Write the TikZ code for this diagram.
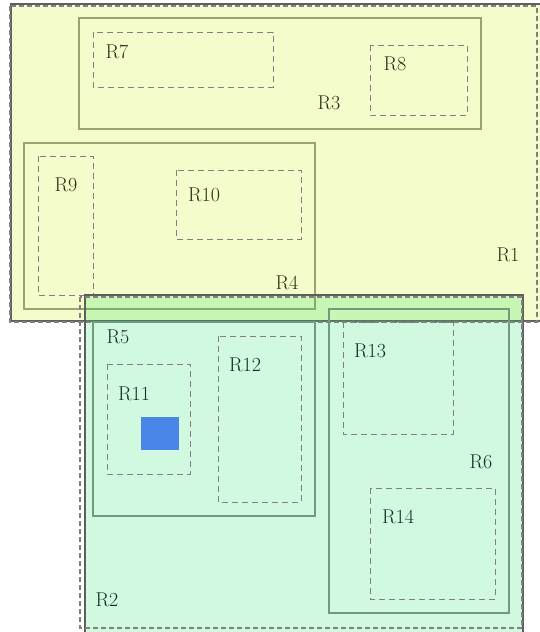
\documentclass[tikz,border=0pt]{standalone}
\usepackage{xcolor}
\usepackage{tikz}
\usetikzlibrary{positioning}
\definecolor{rootFill}{HTML}{F5FCCB}
\definecolor{rightFill}{HTML}{14E15F}
\definecolor{rootFrame}{HTML}{5E5E5E}
\definecolor{dashFrame}{HTML}{808080}
\definecolor{yellowBox}{HTML}{9CA273}
\definecolor{greenBox}{HTML}{6E9C7E}
\definecolor{yellowText}{HTML}{2A2F14}
\definecolor{greenText}{HTML}{11301C}
\definecolor{pointBlue}{HTML}{4A86E8}

\tikzset{
  rootbox/.style={draw=rootFrame,line width=1.6pt},
  rootdash/.style={draw=dashFrame,line width=1.8pt,dash pattern=on 5pt off 3pt},
  innerbox/.style={line width=1.1pt},
  leafbox/.style={draw=dashFrame,line width=1pt,dash pattern=on 6pt off 4pt},
  lab/.style={font=\fontsize{20}{24}\selectfont,inner sep=0pt},
}

\begin{document}
\begin{tikzpicture}[x=1pt,y=-1pt]
  \useasboundingbox (0,0) rectangle (539,632);
  % left root entry
  \filldraw[rootbox,fill=rootFill] (11,4) rectangle (548,321);
  \draw[innerbox,yellowBox] (79,18) rectangle (481,129);
  \draw[innerbox,yellowBox] (24,143) rectangle (315,309);
  \draw[leafbox] (93,32) rectangle (273,87);
  \draw[leafbox] (370,45) rectangle (467,115);
  \draw[leafbox] (38,156) rectangle (93,295);
  \draw[leafbox] (176,170) rectangle (301,239);
  % right root entry, drawn over the left one
  \filldraw[rootbox,fill=rightFill,fill opacity=0.2] (85,295) rectangle (523,640);
  \draw[rootdash] (10,6) rectangle (537,322);
  \draw[rootdash,line width=1.2pt] (80,297) rectangle (522,628);
  \draw[innerbox,greenBox] (93,322) rectangle (315,516);
  \draw[innerbox,greenBox] (329,309) rectangle (509,613);
  \draw[leafbox] (107,364) rectangle (190,474);
  \draw[leafbox] (218,336) rectangle (301,502);
  \draw[leafbox] (343,322) rectangle (453,434);
  \draw[leafbox] (370,488) rectangle (495,599);
  \fill[pointBlue] (141,417) rectangle (179,450);

  \node[lab,yellowText] (lR1) at (508,255) {R1};
  \node[lab,greenText] (lR2) at (107,600) {R2};
  \node[lab,yellowText] (lR3) at (329,103) {R3};
  \node[lab,yellowText] (lR4) at (287,283) {R4};
  \node[lab,greenText] (lR5) at (118,337) {R5};
  \node[lab,greenText] (lR6) at (481,462) {R6};
  \node[lab,yellowText] (lR7) at (117,52) {R7};
  \node[lab,yellowText] (lR8) at (395,64) {R8};
  \node[lab,yellowText] (lR9) at (66,185) {R9};
  \node[lab,yellowText] (lR10) at (204,195) {R10};
  \node[lab,greenText] (lR11) at (134,394) {R11};
  \node[lab,greenText] (lR12) at (245,365) {R12};
  \node[lab,greenText] (lR13) at (370,351) {R13};
  \node[lab,greenText] (lR14) at (398,517) {R14};
\end{tikzpicture}
\end{document}
